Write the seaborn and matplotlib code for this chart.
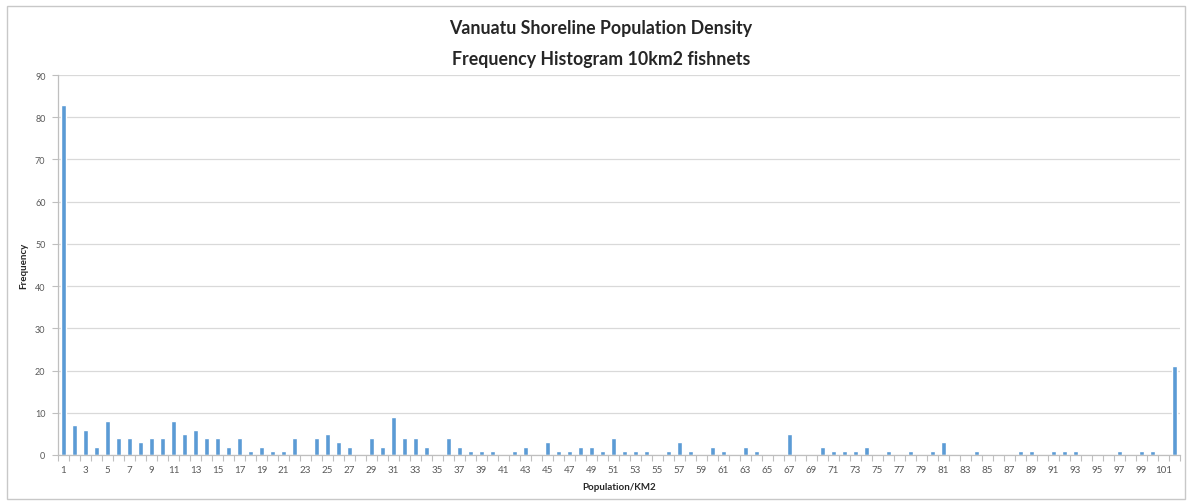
import matplotlib
matplotlib.use("Agg")
import matplotlib.pyplot as plt
import seaborn as sns
import pandas as pd
from matplotlib.patches import Rectangle

sns.set_theme(style="white")
plt.rcParams['font.family'] = ['Lato', 'DejaVu Sans']

categories = [str(i) for i in range(1, 103)]
frequency = [
    83, 7, 6, 2, 8, 4, 4, 3, 4, 4,      # 1-10
    8, 5, 6, 4, 4, 2, 4, 1, 2, 1,       # 11-20
    1, 4, 0, 4, 5, 3, 2, 0, 4, 2,       # 21-30
    9, 4, 4, 2, 0, 4, 2, 1, 1, 1,       # 31-40
    0, 1, 2, 0, 3, 1, 1, 2, 2, 1,       # 41-50
    4, 1, 1, 1, 0, 1, 3, 1, 0, 2,       # 51-60
    1, 0, 2, 1, 0, 0, 5, 0, 0, 2,       # 61-70
    1, 1, 1, 2, 0, 1, 0, 1, 0, 1,       # 71-80
    3, 0, 0, 1, 0, 0, 0, 1, 1, 0,       # 81-90
    1, 1, 1, 0, 0, 0, 1, 0, 1, 1,       # 91-100
    0, 21,                              # 101-102
]
tick_labels = [c if int(c) % 2 == 1 else "" for c in categories]
y_ticks = list(range(0, 100, 10))
title_lines = ["Vanuatu Shoreline Population Density", "Frequency Histogram 10km2 fishnets"]

df = pd.DataFrame({"bin": categories, "freq": frequency})

fig = plt.figure(figsize=(11.87, 5.02), dpi=100)
fig.patch.set_facecolor("white")
fig.add_artist(Rectangle((7 / 1187, 2 / 502), 1178 / 1187, 493 / 502,
                         transform=fig.transFigure, fill=False,
                         edgecolor="#c8c8c8", linewidth=1.0))

ax = fig.add_axes([58 / 1187, 46 / 502, 1122 / 1187, 380 / 502])
sns.barplot(data=df, x="bin", y="freq", order=categories, color="#5B9BD5",
            width=0.42, saturation=1, ax=ax)

ax.set_ylim(0, 90)
ax.set_xlim(-0.5, len(categories) - 0.5)
ax.set_yticks(y_ticks)
ax.set_yticklabels([str(v) for v in y_ticks], fontsize=6.5, color="#595959")
ax.set_xticks(range(len(categories)))
ax.set_xticklabels(tick_labels, fontsize=7, color="#595959")
ax.tick_params(axis="x", length=0, pad=7)
ax.tick_params(axis="y", length=4, width=0.8, color="#bfbfbf", pad=5, direction="out", left=True)
ax.set_xticks([i + 0.5 for i in range(-1, len(categories))], minor=True)
ax.tick_params(axis="x", which="minor", length=4, width=0.8, color="#bfbfbf", bottom=True)

ax.grid(axis="y", color="#d9d9d9", linewidth=0.9)
ax.set_axisbelow(True)
for s in ["top", "right"]:
    ax.spines[s].set_visible(False)
for s in ["left", "bottom"]:
    ax.spines[s].set_color("#bfbfbf")
    ax.spines[s].set_linewidth(0.9)

ax.set_xlabel("Population/KM2", fontsize=7, fontweight="bold", color="#262626", labelpad=6)
ax.set_ylabel("Frequency", fontsize=7, fontweight="bold", color="#262626", labelpad=5)

fig.text(601 / 1187, 1 - 29 / 502, title_lines[0], ha="center", va="center",
         fontsize=12.8, fontweight="bold", color="#262626")
fig.text(601 / 1187, 1 - 59 / 502, title_lines[1], ha="center", va="center",
         fontsize=12.8, fontweight="bold", color="#262626")

fig.savefig("out.png", dpi=100, facecolor="white")
